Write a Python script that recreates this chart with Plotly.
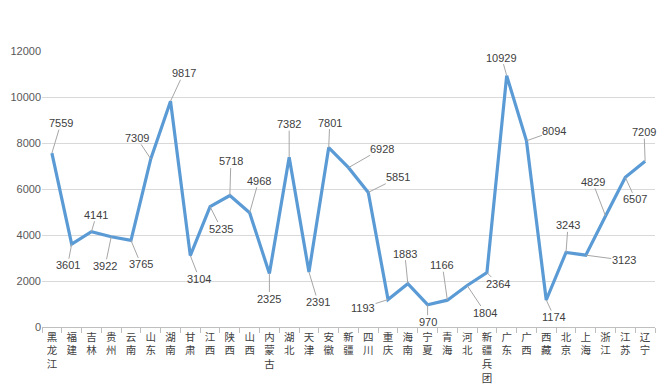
import plotly.graph_objects as go

categories = ["黑龙江", "福建", "吉林", "贵州", "云南", "山东", "湖南", "甘肃", "江西", "陕西",
              "山西", "内蒙古", "湖北", "天津", "安徽", "新疆", "四川", "重庆", "海南", "宁夏",
              "青海", "河北", "新疆兵团", "广东", "广西", "西藏", "北京", "上海", "浙江", "江苏", "辽宁"]
values = [7559, 3601, 4141, 3922, 3765, 7309, 9817, 3104, 5235, 5718,
          4968, 2325, 7382, 2391, 7801, 6928, 5851, 1193, 1883, 970,
          1166, 1804, 2364, 10929, 8094, 1174, 3243, 3123, 4829, 6507, 7209]
y_ticks = [0, 2000, 4000, 6000, 8000, 10000, 12000]

# label offsets (pixels) for the leader-line data labels
label_dx = [9, -4, 5, -6, 10, -14, 13, 9, 11, 1, 9, 0, 0, 9, 1, 33, 30, -25, -3, 0,
            -5, 18, 11, -5, 28, 8, 2, 38, -13, 10, -1]
label_dy = [-30, 21, -17, 29, 24, -21, -28, 23, 22, -34, -32, 25, -33, 30, -25, -19, -15, 8, -30, 17,
            -35, 27, 11, -18, -10, 17, -27, 5, -34, 22, -29]

tick_text = ["<br>".join(list(c)) for c in categories]

fig = go.Figure()
fig.add_trace(go.Scatter(
    x=categories, y=values, mode="lines",
    line=dict(color="#5b9bd5", width=3.2),
    hoverinfo="x+y", showlegend=False,
))

annotations = []
for c, v, dx, dy in zip(categories, values, label_dx, label_dy):
    annotations.append(dict(
        x=c, y=v, xref="x", yref="y", text=str(v),
        showarrow=True, arrowhead=0, arrowwidth=1, arrowcolor="#a6a6a6",
        ax=dx, ay=dy, standoff=0, borderpad=0,
        font=dict(family="Liberation Sans, Arial, sans-serif", size=11, color="#404040"),
    ))

fig.update_layout(
    width=665, height=387,
    margin=dict(l=42, r=10, t=51, b=60),
    paper_bgcolor="white", plot_bgcolor="white",
    annotations=annotations,
    xaxis=dict(
        type="category", range=[-0.5, len(categories) - 0.5], automargin=False,
        tickmode="array", tickvals=categories, ticktext=tick_text,
        tickangle=0, tickson="boundaries", ticks="outside", ticklen=5,
        tickcolor="#bfbfbf", showline=True, linecolor="#bfbfbf", linewidth=1,
        showgrid=False,
        tickfont=dict(family="Noto Sans CJK SC", size=10.5, color="#404040"),
    ),
    yaxis=dict(
        range=[0, 12000], tickvals=y_ticks, tickformat="d", automargin=False,
        showgrid=True, gridcolor="#d9d9d9", gridwidth=1,
        zeroline=False, showline=False, ticks="",
        tickfont=dict(family="Liberation Sans, Arial, sans-serif", size=11, color="#595959"),
    ),
)

fig.write_html("out.html", config={"displayModeBar": False},
               post_script="document.body.style.margin='0';")
